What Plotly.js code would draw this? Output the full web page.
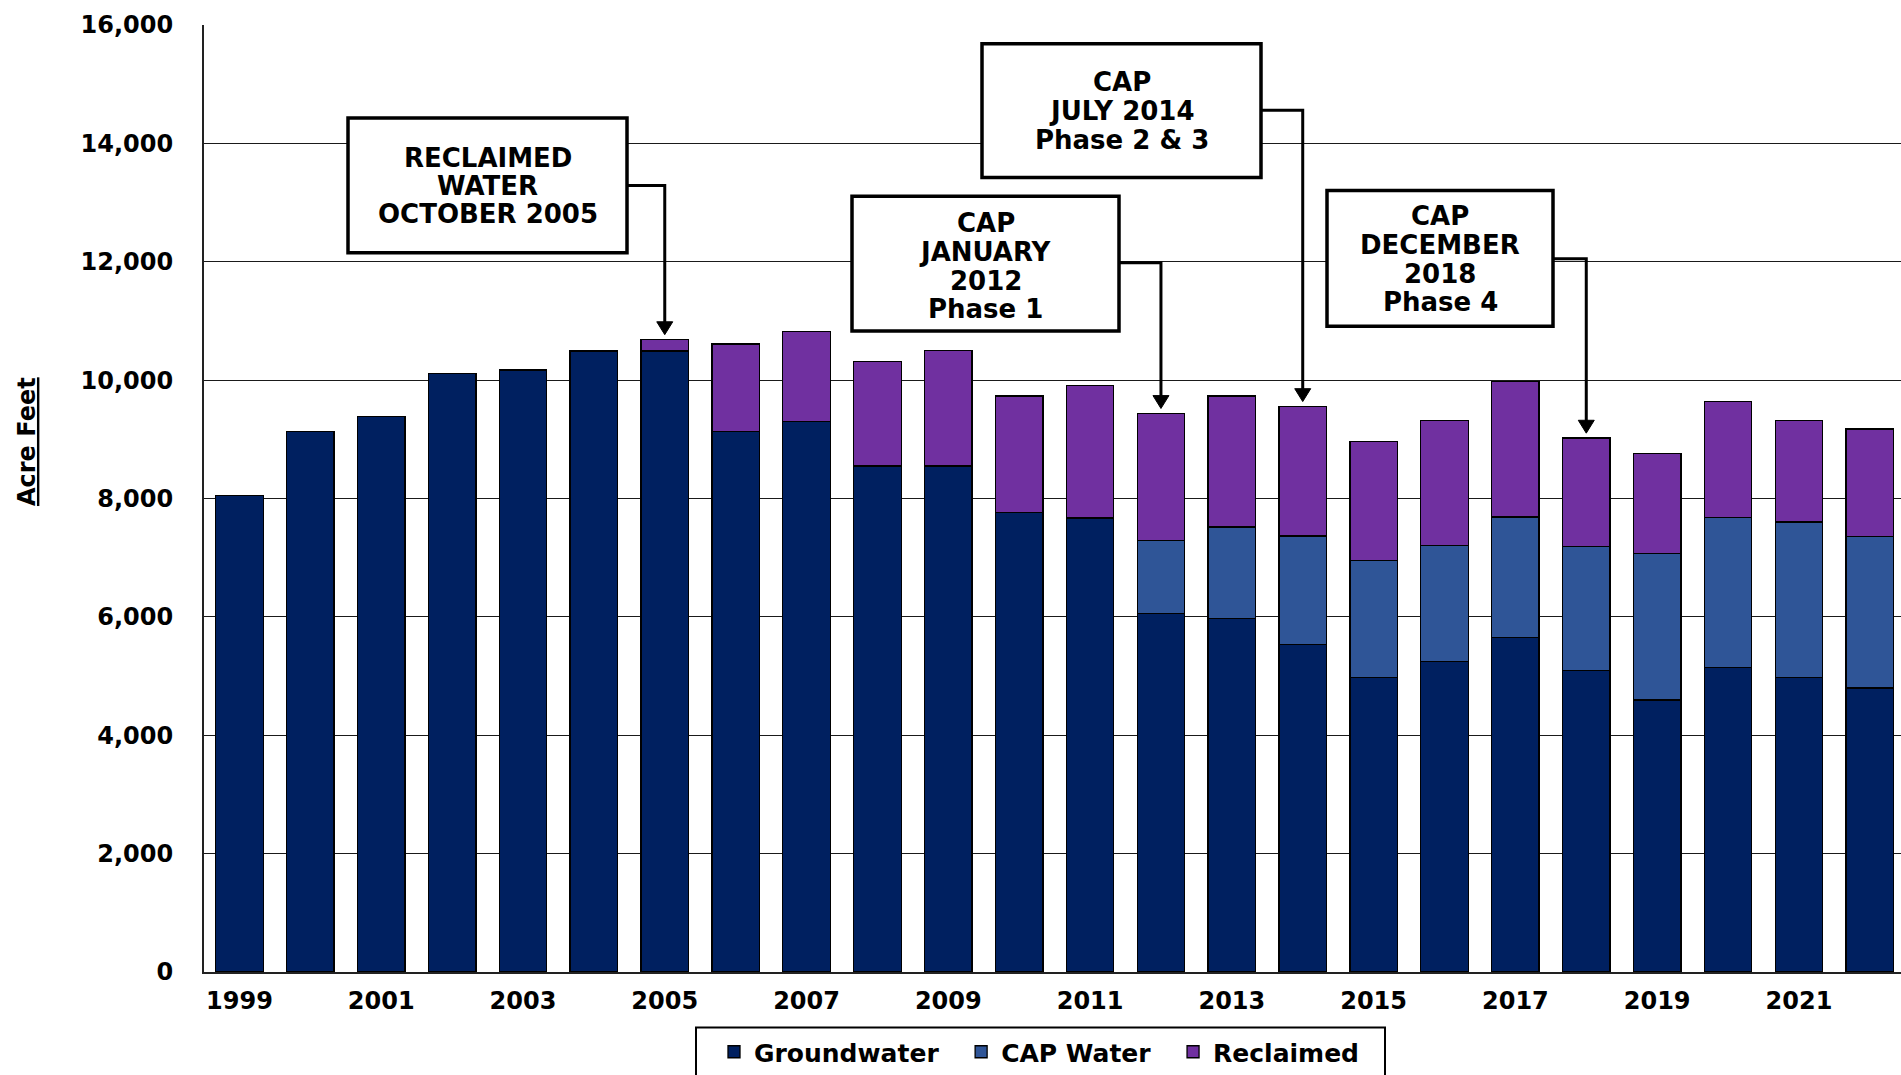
<!DOCTYPE html>
<html>
<head>
<meta charset="utf-8">
<script src="https://cdn.plot.ly/plotly-3.0.1.min.js"></script>
<style>
html,body{margin:0;padding:0;background:#fff;}
#chart{width:1901px;height:1075px;}
</style>
</head>
<body>
<div id="chart"></div>
<script>
// ---- data ----
const years = ['1999','2000','2001','2002','2003','2004','2005','2006','2007','2008','2009','2010','2011','2012','2013','2014','2015','2016','2017','2018','2019','2020','2021','2022'];
const groundwater = [8055, 9130, 9385, 10116, 10172, 10493, 10493, 9128, 9302, 8547, 8547, 7760, 7670, 6061, 5972, 5531, 4974, 5241, 5649, 5091, 4594, 5146, 4974, 4800];
const capWater = [null, null, null, null, null, null, null, null, null, null, null, null, null, 1224, 1548, 1837, 1980, 1970, 2036, 2097, 2477, 2533, 2627, 2561];
const reclaimed = [null, null, null, null, null, null, 195, 1482, 1514, 1771, 1950, 1972, 2241, 2156, 2212, 2190, 2014, 2109, 2287, 1836, 1691, 1958, 1719, 1813];
const yTickVals = [0, 2000, 4000, 6000, 8000, 10000, 12000, 14000, 16000];
const xTickVals = ['1999','2001','2003','2005','2007','2009','2011','2013','2015','2017','2019','2021'];
const seriesNames = ['Groundwater', 'CAP Water', 'Reclaimed'];
const callouts = [
  {lines: ['RECLAIMED', 'WATER', 'OCTOBER 2005'], year: '2005'},
  {lines: ['CAP', 'JULY 2014', 'Phase 2 & 3'], year: '2014'},
  {lines: ['CAP', 'JANUARY', '2012', 'Phase 1'], year: '2012'},
  {lines: ['CAP', 'DECEMBER', '2018', 'Phase 4'], year: '2018'}
];

// ---- layout geometry (pixels) ----
const W = 1901, H = 1075;
const M = {l: 204, r: 0, t: 25, b: 94};
const PW = W - M.l - M.r, PH = H - M.t - M.b;
const XR = [-0.5, 23.44];
const YMAX = 16000;
const px = X => (X - M.l) / PW;             // pixel -> paper x
const py = Y => (H - M.b - Y) / PH;         // pixel -> paper y
const catPaper = i => (i - XR[0]) / (XR[1] - XR[0]);

const boxGeom = [
  {x0: 348, x1: 627, y0: 119, y1: 255, lineY: [158, 187, 215], connY: 187},
  {x0: 982, x1: 1261, y0: 44, y1: 179, lineY: [82, 111, 140], connY: 111},
  {x0: 852, x1: 1119, y0: 198, y1: 334, lineY: [224, 253, 282, 311], connY: 265},
  {x0: 1327, x1: 1553, y0: 192, y1: 329, lineY: [217, 246, 275, 304], connY: 261}
];

const colors = ['#002060', '#2F5597', '#7030A0'];
const vals = [groundwater, capWater, reclaimed];
const NBSP = '\u00a0\u00a0';
const traces = seriesNames.map((n, k) => ({
  type: 'bar', name: n + NBSP, x: years, y: vals[k],
  marker: {color: colors[k], line: {color: '#000', width: 1.3}},
  hoverinfo: 'skip'
}));

const FONT = 'DejaVu Sans, Arial, sans-serif';
const shapes = [];
const annotations = [];

callouts.forEach((c, i) => {
  const g = boxGeom[i];
  shapes.push({type: 'rect', xref: 'paper', yref: 'paper', layer: 'above',
    x0: px(g.x0), x1: px(g.x1), y0: py(g.y1), y1: py(g.y0),
    line: {color: '#000', width: 3.5}, fillcolor: '#fff'});
  const cx = (g.x0 + g.x1) / 2;
  c.lines.forEach((t, j) => {
    annotations.push({xref: 'paper', yref: 'paper', x: px(cx), y: py(g.lineY[j] + 1),
      text: t, showarrow: false, xanchor: 'center', yanchor: 'middle',
      font: {family: FONT, size: 26, color: '#000', weight: 'bold'}});
  });
  const idx = years.indexOf(c.year);
  const total = (groundwater[idx] || 0) + (capWater[idx] || 0) + (reclaimed[idx] || 0);
  const tipY = (total + 80) / YMAX;
  const xc = catPaper(idx);
  const headH = 13 / PH, headW = 8 / PW;
  shapes.push({type: 'path', xref: 'paper', yref: 'paper', layer: 'above',
    path: `M ${px(g.x1)},${py(g.connY)} H ${xc} V ${tipY + headH * 0.8}`,
    line: {color: '#000', width: 3}});
  shapes.push({type: 'path', xref: 'paper', yref: 'paper', layer: 'above',
    path: `M ${xc},${tipY} L ${xc - headW},${tipY + headH} L ${xc + headW},${tipY + headH} Z`,
    line: {color: '#000', width: 1}, fillcolor: '#000'});
});

// legend frame
shapes.push({type: 'rect', xref: 'paper', yref: 'paper', layer: 'above',
  x0: px(696), x1: px(1385), y0: py(1090), y1: py(1037),
  line: {color: '#000', width: 2}, fillcolor: 'rgba(0,0,0,0)'});

annotations.push({xref: 'paper', yref: 'paper', x: px(27), y: py(446),
  text: '<u>Acre Feet</u>', showarrow: false, textangle: -90,
  xanchor: 'center', yanchor: 'middle',
  font: {family: FONT, size: 24, color: '#000', weight: 'bold'}});

const layout = {
  width: W, height: H,
  margin: M,
  paper_bgcolor: '#fff', plot_bgcolor: '#fff',
  barmode: 'stack', bargap: 0.33,
  font: {family: FONT, size: 24, color: '#000', weight: 'bold'},
  showlegend: true,
  legend: {orientation: 'h', x: px(714), xanchor: 'left', y: py(1039), yanchor: 'top',
    borderwidth: 0, bgcolor: 'rgba(0,0,0,0)',
    font: {family: FONT, size: 25, color: '#000', weight: 'bold'},
    traceorder: 'normal'},
  xaxis: {type: 'category', range: XR, tickmode: 'array', tickvals: xTickVals, ticktext: xTickVals,
    showgrid: false, showline: true, linecolor: '#222', linewidth: 2, ticks: '',
    ticklabelstandoff: 6, tickfont: {family: FONT, size: 24, color: '#000', weight: 'bold'},
    fixedrange: true},
  yaxis: {range: [0, YMAX], tickmode: 'array', tickvals: yTickVals, tickformat: ',d',
    showgrid: true, gridcolor: '#1a1a1a', gridwidth: 1.1, zeroline: false,
    showline: true, linecolor: '#222', linewidth: 2, ticks: '',
    ticklabelstandoff: 24, tickfont: {family: FONT, size: 24, color: '#000', weight: 'bold'},
    fixedrange: true},
  shapes: shapes,
  annotations: annotations
};

Plotly.newPlot('chart', traces, layout, {staticPlot: true, displayModeBar: false});
</script>
</body>
</html>
